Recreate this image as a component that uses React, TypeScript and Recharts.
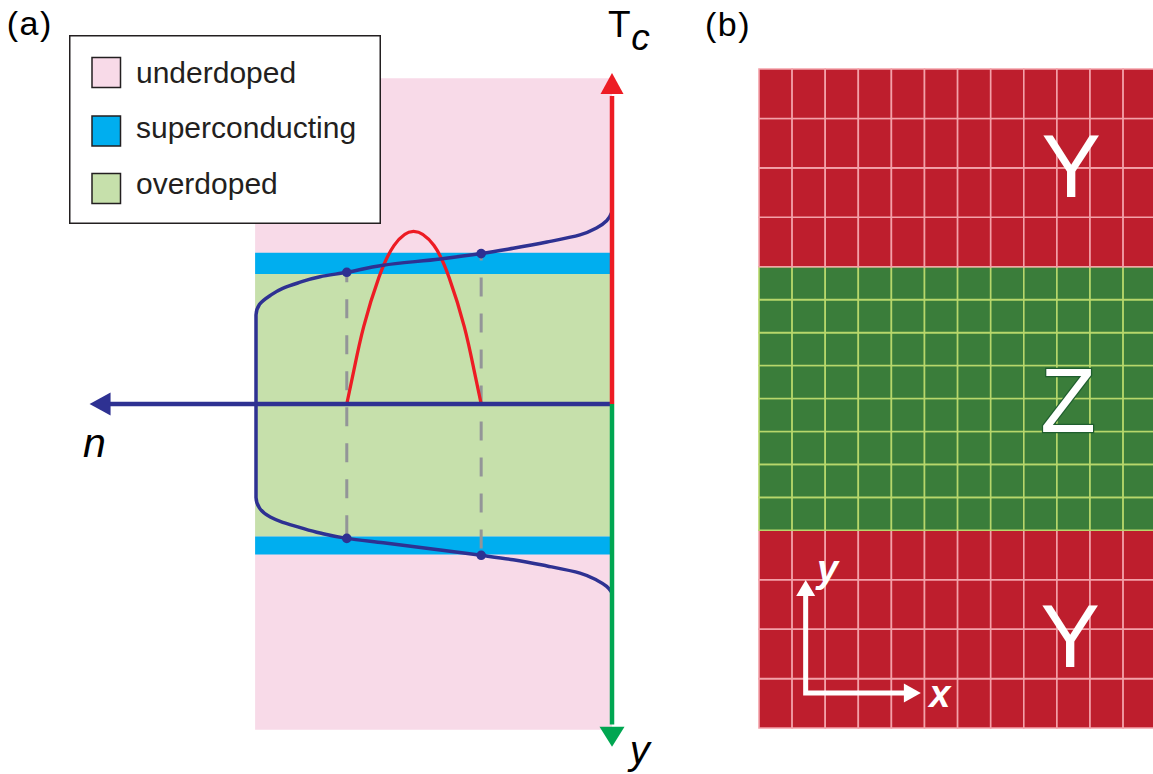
import React from 'react';
import { ComposedChart, XAxis, YAxis, Scatter, ReferenceArea, ReferenceDot, Legend } from 'recharts';

const FONT = '"Liberation Sans", Arial, Helvetica, sans-serif';

// ---------------- Panel (a): hole density n(y) and Tc(n) ----------------
const legendLabels = ['underdoped', 'superconducting', 'overdoped'];

// regions in (n, v) units: v is the vertical position (Tc up, y down)
const underdopedRegion = { n0: 0, n1: 4.01, v0: -3.66, v1: 3.66 };
const overdopedRegion = { n0: 0, n1: 4.01, v0: -1.49, v1: 1.46 };
const superconductingRegions = [
  { n0: 0, n1: 4.01, v0: 1.46, v1: 1.70 },
  { n0: 0, n1: 4.01, v0: -1.69, v1: -1.49 },
];

// navy curve: density n as a function of position
const densityProfile = [
  { n: 0, v: 2.16 }, { n: 0.06, v: 2.06 }, { n: 0.17, v: 1.98 }, { n: 0.36, v: 1.9 },
  { n: 0.73, v: 1.82 }, { n: 1.11, v: 1.75 }, { n: 1.47, v: 1.69 }, { n: 1.93, v: 1.63 },
  { n: 2.57, v: 1.56 }, { n: 2.98, v: 1.48 }, { n: 3.28, v: 1.43 }, { n: 3.53, v: 1.36 },
  { n: 3.7, v: 1.3 }, { n: 3.84, v: 1.22 }, { n: 3.96, v: 1.12 }, { n: 4.0, v: 1.0 },
  { n: 4.0, v: -1.05 }, { n: 3.96, v: -1.17 }, { n: 3.84, v: -1.27 }, { n: 3.7, v: -1.33 },
  { n: 3.53, v: -1.38 }, { n: 3.28, v: -1.45 }, { n: 2.98, v: -1.51 }, { n: 2.57, v: -1.56 },
  { n: 1.93, v: -1.64 }, { n: 1.47, v: -1.7 }, { n: 1.11, v: -1.75 }, { n: 0.73, v: -1.82 },
  { n: 0.36, v: -1.9 }, { n: 0.17, v: -1.98 }, { n: 0.06, v: -2.05 }, { n: 0, v: -2.12 },
];

// red dome: Tc versus n
const tcDome = [
  { n: 2.98, v: 0 }, { n: 2.9, v: 0.38 }, { n: 2.79, v: 0.87 }, { n: 2.62, v: 1.42 },
  { n: 2.45, v: 1.78 }, { n: 2.23, v: 1.94 }, { n: 2.0, v: 1.78 }, { n: 1.83, v: 1.42 },
  { n: 1.66, v: 0.87 }, { n: 1.55, v: 0.38 }, { n: 1.47, v: 0 },
];

// points where n(y) crosses the superconducting window
const crossingPoints = [
  { n: 1.47, v: 1.69 }, { n: 2.98, v: 1.48 }, { n: 2.98, v: -1.51 }, { n: 1.47, v: -1.7 },
];
const dropLineOuter = [{ n: 2.98, v: 1.48 }, { n: 2.98, v: -1.51 }];
const dropLineInner = [{ n: 1.47, v: 1.69 }, { n: 1.47, v: -1.7 }];

// axes of panel (a)
const nAxisLine = [{ n: 0, v: 0 }, { n: 5.66, v: 0 }];
const tcAxisLine = [{ n: 0, v: 0 }, { n: 0, v: 3.46 }];
const yAxisLine = [{ n: 0, v: 0 }, { n: 0, v: -3.6 }];
const nAxisTip = [{ n: 5.87, v: 0, dir: 'left' }];
const tcAxisTip = [{ n: 0, v: 3.72, dir: 'up' }];
const yAxisTip = [{ n: 0, v: -3.85, dir: 'down' }];

// ---------------- Panel (b): lattice with Y / Z / Y layers ----------------
const latticeColEdges = [0, 1, 2, 3, 4, 5, 6, 7, 8, 9, 10, 11, 12];
const latticeRowEdges = [0, 1.5, 3, 4.5, 6, 7, 8, 9, 10, 11, 12, 13, 14, 15.5, 17, 18.5, 20];
const latticeRowPhase = ['Y', 'Y', 'Y', 'Y', 'Z', 'Z', 'Z', 'Z', 'Z', 'Z', 'Z', 'Z', 'Y', 'Y', 'Y', 'Y'];
const phaseLabels = [
  { text: 'Y', u: 9.43, w: 16.12 },
  { text: 'Z', u: 9.34, w: 8.98 },
  { text: 'Y', u: 9.4, w: 1.85 },
];
const frameAxes = [{ u: 1.41, w: 4.05 }, { u: 1.41, w: 1.06 }, { u: 4.42, w: 1.06 }];
const frameYTip = [{ u: 1.41, w: 4.49, dir: 'up' }];
const frameXTip = [{ u: 4.89, w: 1.06, dir: 'right' }];

// ---------------- styles ----------------
const C = {
  pink: '#f8dae8',
  blue: '#00aeef',
  lightGreen: '#c6e0ab',
  navy: '#2e3192',
  red: '#ed1c24',
  green: '#00a651',
  gray: '#939598',
  ink: '#231f20',
};
const legendColors: Record<string, string> = { underdoped: C.pink, superconducting: C.blue, overdoped: C.lightGreen };
const phaseFill: Record<string, string> = { Y: '#be1e2d', Z: '#3a7d3a' };
const phaseGrid: Record<string, string> = { Y: '#f3a1a9', Z: '#b7d76b' };

const Empty = () => <g />;

const headShape = (color: string, len: number, half: number) => (p: any) => {
  const { cx, cy, payload } = p;
  const d = payload && payload.dir;
  let pts: number[][];
  if (d === 'up') pts = [[cx, cy], [cx - half, cy + len], [cx + half, cy + len]];
  else if (d === 'down') pts = [[cx, cy], [cx - half, cy - len], [cx + half, cy - len]];
  else if (d === 'left') pts = [[cx, cy], [cx + len, cy - half], [cx + len, cy + half]];
  else pts = [[cx, cy], [cx - len, cy - half], [cx - len, cy + half]];
  return <polygon points={pts.map((q) => q.join(',')).join(' ')} fill={color} />;
};

const textShape = (content: React.ReactNode, style: any) => (p: any) => (
  <text x={p.cx} y={p.cy} fontFamily={FONT} {...style}>
    {content}
  </text>
);

const LegendBox = () => (
  <svg width={313} height={190} style={{ display: 'block' }}>
    <rect x={0.75} y={0.75} width={310.5} height={187.5} fill="#fff" stroke={C.ink} strokeWidth={1.5} />
    {legendLabels.map((name, i) => (
      <g key={name}>
        <rect x={23} y={[22.5, 81, 138.5][i]} width={28.5} height={30} fill={legendColors[name]} stroke={C.ink} strokeWidth={1.5} />
        <text x={67} y={[48, 103, 159][i]} fontFamily={FONT} fontSize={30} fill={C.ink}>
          {name}
        </text>
      </g>
    ))}
  </svg>
);

const regionArea = (r: any, fill: string, key: string) => (
  <ReferenceArea key={key} x1={r.n0} x2={r.n1} y1={r.v0} y2={r.v1} fill={fill} fillOpacity={1} stroke="none" ifOverflow="visible" />
);

export default function App() {
  return (
    <div style={{ position: 'fixed', left: 0, top: 0, width: 1153, height: 774, overflow: 'hidden', background: '#fff' }}>
      <div style={{ position: 'absolute', left: 0, top: 0 }}>
        <ComposedChart width={1153} height={774} margin={{ top: 30.2, right: 452, bottom: 5.1, left: 33.5 }}>
          <XAxis type="number" dataKey="n" domain={[-1, 6.5]} reversed hide allowDataOverflow />
          <YAxis type="number" dataKey="v" domain={[-4.1, 4.2]} hide allowDataOverflow />
          {regionArea(underdopedRegion, C.pink, 'ud')}
          {regionArea(overdopedRegion, C.lightGreen, 'od')}
          {superconductingRegions.map((r, i) => regionArea(r, C.blue, 'sc' + i))}

          <Scatter data={dropLineOuter} shape={Empty} legendType="none" isAnimationActive={false}
            line={{ stroke: C.gray, strokeWidth: 3, strokeDasharray: '19 17', strokeDashoffset: 9 }} />
          <Scatter data={dropLineInner} shape={Empty} legendType="none" isAnimationActive={false}
            line={{ stroke: C.gray, strokeWidth: 3, strokeDasharray: '19 17', strokeDashoffset: 12 }} />
          <Scatter data={tcDome} shape={Empty} legendType="none" isAnimationActive={false} lineJointType="natural"
            line={{ stroke: C.red, strokeWidth: 3.3 }} />
          <Scatter data={nAxisLine} shape={Empty} legendType="none" isAnimationActive={false}
            line={{ stroke: C.navy, strokeWidth: 4.5 }} />
          <Scatter data={densityProfile} shape={Empty} legendType="none" isAnimationActive={false} lineJointType="monotoneY"
            line={{ stroke: C.navy, strokeWidth: 3.5 }} />
          <Scatter data={crossingPoints} legendType="none" isAnimationActive={false}
            shape={(p: any) => <circle cx={p.cx} cy={p.cy} r={4.8} fill={C.navy} />} />
          <Scatter data={tcAxisLine} shape={Empty} legendType="none" isAnimationActive={false}
            line={{ stroke: C.red, strokeWidth: 4.5 }} />
          <Scatter data={yAxisLine} shape={Empty} legendType="none" isAnimationActive={false}
            line={{ stroke: C.green, strokeWidth: 4.5 }} />
          <Scatter data={nAxisTip} legendType="none" isAnimationActive={false} shape={headShape(C.navy, 21, 11.5)} />
          <Scatter data={tcAxisTip} legendType="none" isAnimationActive={false} shape={headShape(C.red, 21, 11.5)} />
          <Scatter data={yAxisTip} legendType="none" isAnimationActive={false} shape={headShape(C.green, 20, 12.5)} />

          <ReferenceDot x={6.8} y={4.15} r={1} ifOverflow="visible"
            shape={textShape('(a)', { fontSize: 34, letterSpacing: 1.5, fill: '#000' })} />
          <ReferenceDot x={0.045} y={4.124} r={1} ifOverflow="visible"
            shape={textShape('T', { fontSize: 37, fill: '#000' })} />
          <ReferenceDot x={-0.215} y={3.98} r={1} ifOverflow="visible"
            shape={textShape('c', { fontSize: 37, fontStyle: 'italic', fill: '#000' })} />
          <ReferenceDot x={5.944} y={-0.596} r={1} ifOverflow="visible"
            shape={textShape('n', { fontSize: 41, fontStyle: 'italic', fill: '#000' })} />
          <ReferenceDot x={-0.2} y={-4.045} r={1} ifOverflow="visible"
            shape={textShape('y', { fontSize: 40, fontStyle: 'italic', fill: '#000' })} />

          <Legend layout="horizontal" verticalAlign="middle" align="center" content={() => <LegendBox />}
            wrapperStyle={{ position: 'absolute', left: 69, top: 35, width: 313, height: 190 }} />
        </ComposedChart>
      </div>

      <div style={{ position: 'absolute', left: 0, top: 0 }}>
        <ComposedChart width={1180} height={774} margin={{ top: 19.575, right: 7.25, bottom: 13.05, left: 709.35 }}>
          <XAxis type="number" dataKey="u" domain={[-1.5, 12.5]} hide allowDataOverflow />
          <YAxis type="number" dataKey="w" domain={[-1, 21.5]} hide allowDataOverflow />
          {latticeRowPhase.map((ph, i) =>
            latticeColEdges.slice(0, -1).map((c, j) => (
              <ReferenceArea key={`c${i}-${j}`} x1={c} x2={latticeColEdges[j + 1]} y1={latticeRowEdges[i]} y2={latticeRowEdges[i + 1]}
                fill={phaseFill[ph]} fillOpacity={1} stroke={phaseGrid[ph]} strokeWidth={1.6} ifOverflow="visible" />
            ))
          )}
          <Scatter data={frameAxes} shape={Empty} legendType="none" isAnimationActive={false}
            line={{ stroke: '#fff', strokeWidth: 5, strokeLinejoin: 'miter' }} />
          <Scatter data={frameYTip} legendType="none" isAnimationActive={false} shape={headShape('#fff', 16, 9.5)} />
          <Scatter data={frameXTip} legendType="none" isAnimationActive={false} shape={headShape('#fff', 17, 9.5)} />

          {phaseLabels.map((l, i) => (
            <ReferenceDot key={'pl' + i} x={l.u} y={l.w} r={1} ifOverflow="visible"
              shape={textShape(l.text, l.text === 'Z'
                ? { fontSize: 91, textAnchor: 'middle', fill: '#fff', stroke: '#1f5e2e', strokeWidth: 2.5, paintOrder: 'stroke' }
                : { fontSize: 89, textAnchor: 'middle', fill: '#fff' })} />
          ))}
          <ReferenceDot x={1.75} y={4.43} r={1} ifOverflow="visible"
            shape={textShape('y', { fontSize: 38, fontStyle: 'italic', fontWeight: 'bold', fill: '#fff' })} />
          <ReferenceDot x={5.14} y={0.64} r={1} ifOverflow="visible"
            shape={textShape('x', { fontSize: 38, fontStyle: 'italic', fontWeight: 'bold', fill: '#fff' })} />
          <ReferenceDot x={-1.631} y={21.01} r={1} ifOverflow="visible"
            shape={textShape('(b)', { fontSize: 34, letterSpacing: 1.5, fill: '#000' })} />
        </ComposedChart>
      </div>
    </div>
  );
}
